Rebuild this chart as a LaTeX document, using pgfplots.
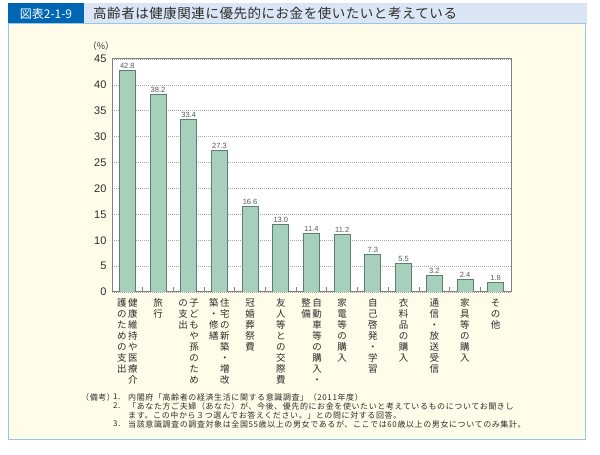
\documentclass[border=0pt]{standalone}
\usepackage{pgfplots}
\pgfplotsset{compat=1.18}
\usepackage{fontspec}
\setmainfont{Noto Sans CJK JP}
\newfontfamily\numfont{Liberation Sans}
\newfontfamily\notefont[LetterSpace=7.5]{Noto Sans CJK JP}
\newfontfamily\titlefont[LetterSpace=4]{Noto Sans CJK JP}
\definecolor{barfill}{RGB}{166,208,188}
\definecolor{baredge}{RGB}{96,126,112}
\definecolor{cream}{RGB}{255,252,233}
\definecolor{panelborder}{RGB}{150,200,228}
\definecolor{titlebg}{RGB}{218,230,245}
\definecolor{titledark}{RGB}{0,102,180}
\definecolor{txt}{RGB}{45,45,45}
\definecolor{axgray}{RGB}{130,130,130}

\makeatletter
\def\vcol@aux#1{\ifx#1\relax\else\hbox to 11bp{\hss\raisebox{0pt}[8.5bp][2.5bp]{#1}\hss}\expandafter\vcol@aux\fi}
\newcommand\vcol[1]{\vtop{\offinterlineskip\vcol@aux#1\relax}}
\makeatother
\newcommand\lab[2]{\hbox{\vcol{#2}\vcol{#1}}}

\pgfplotstableread{
x y
0 42.8
1 38.2
2 33.4
3 27.3
4 16.6
5 13.0
6 11.4
7 11.2
8 7.3
9 5.5
10 3.2
11 2.4
12 1.8
}\datatable

\begin{document}
\begin{tikzpicture}
\useasboundingbox (0,0) rectangle (600bp,455bp);
% title bar
\fill[titlebg] (8bp,452bp) rectangle (587bp,431bp);
\fill[titledark] (8bp,452bp) rectangle (84bp,431bp);
\node[white, font=\fontsize{12bp}{12bp}\selectfont] at (46bp,441.5bp) {図表2-1-9};
\node[anchor=west, inner sep=0pt, text=txt, font=\titlefont\fontsize{13.5bp}{14bp}\selectfont] at (93bp,441.5bp) {高齢者は健康関連に優先的にお金を使いたいと考えている};
% panel
\filldraw[fill=cream, draw=panelborder, line width=1bp] (8bp,431bp) rectangle (585bp,15bp);
% unit
\node[text=txt, font=\fontsize{9bp}{9bp}\selectfont] at (101bp,409bp) {（\%）};

\begin{axis}[
  at={(112bp,163bp)}, anchor=south west,
  width=399bp, height=233bp, scale only axis,
  xmin=-0.5, xmax=12.5, ymin=0, ymax=45,
  ytick={0,5,...,45},
  xtick={0,...,12},
  minor xtick={0.5,1.5,...,11.5},
  xtick pos=left, ytick pos=left,
  tick align=inside,
  major tick length=0pt, minor tick length=5bp,
  minor tick style={axgray, line width=0.8bp},
  axis line style={axgray, line width=1bp},
  axis background/.style={fill=white},
  ymajorgrids,
  major grid style={axgray!70, line width=0.6bp, dash pattern=on 1.2bp off 0.8bp},
  /pgf/number format/assume math mode=true,
  yticklabel style={text=txt, font=\numfont\fontsize{11bp}{11bp}\selectfont, xshift=-2bp},
  xticklabel style={anchor=north, inner sep=0pt, yshift=-6bp, text=txt, font=\fontsize{9.5bp}{11bp}\selectfont},
  xticklabels={
    {\lab{健康維持や医療介}{護のための支出}},
    {\vcol{旅行}},
    {\lab{子どもや孫のため}{の支出}},
    {\lab{住宅の新築・増改}{築・修繕}},
    {\vcol{冠婚葬祭費}},
    {\vcol{友人等との交際費}},
    {\lab{自動車等の購入・}{整備}},
    {\vcol{家電等の購入}},
    {\vcol{自己啓発・学習}},
    {\vcol{衣料品の購入}},
    {\vcol{通信・放送受信}},
    {\vcol{家具等の購入}},
    {\vcol{その他}}
  },
]
\addplot[ybar, bar width=16bp, fill=barfill, draw=baredge, line width=0.8bp,
  nodes near coords,
  nodes near coords style={text=black!65, inner sep=1.5bp, font=\numfont\fontsize{7.5bp}{8bp}\selectfont,
    /pgf/number format/.cd, fixed, fixed zerofill, precision=1, assume math mode=true}]
  table[x=x, y=y] {\datatable};
\end{axis}

% notes
\begin{scope}[every node/.style={anchor=west, inner sep=0pt, text=txt, font=\notefont\fontsize{8bp}{9bp}\selectfont}]
\node at (81bp,58bp) {（備考）};
\node at (113bp,58bp) {1.};
\node at (128bp,58bp) {内閣府「高齢者の経済生活に関する意識調査」（2011年度）};
\node at (113bp,49bp) {2.};
\node at (128bp,49bp) {「あなた方ご夫婦（あなた）が、今後、優先的にお金を使いたいと考えているものについてお聞きし};
\node at (128bp,40bp) {ます。この中から３つ選んでお答えください。」との問に対する回答。};
\node at (113bp,31bp) {3.};
\node at (128bp,31bp) {当該意識調査の調査対象は全国55歳以上の男女であるが、ここでは60歳以上の男女についてのみ集計。};
\end{scope}
\end{tikzpicture}
\end{document}
